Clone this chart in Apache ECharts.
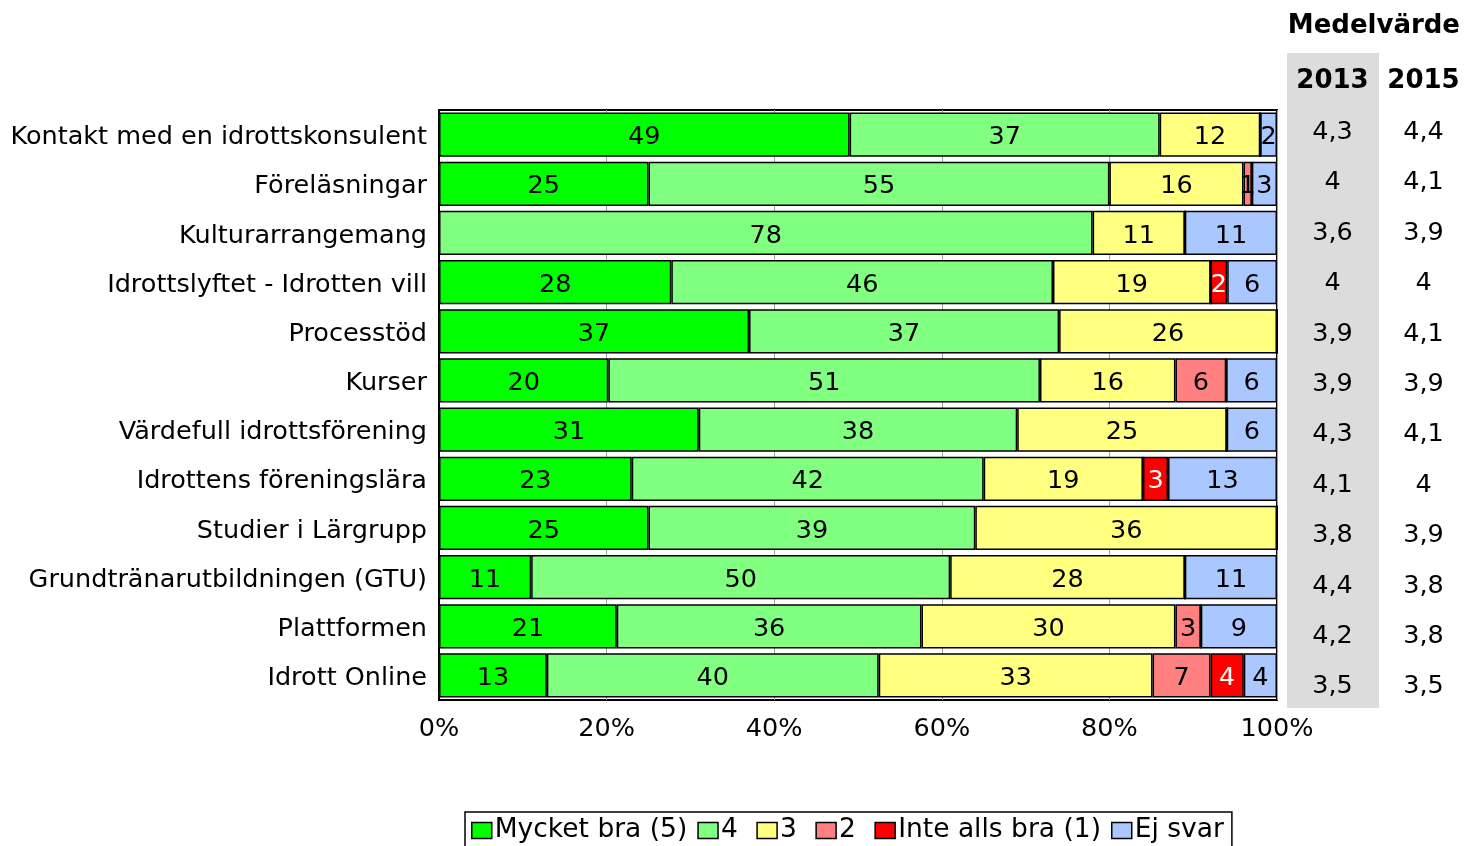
<!DOCTYPE html>
<html>
<head>
<meta charset="utf-8">
<script src="https://cdn.jsdelivr.net/npm/echarts@6/dist/echarts.min.js"></script>
<style>
  html, body { margin: 0; padding: 0; background: #fff; }
  #chart { width: 1469px; height: 846px; }
</style>
</head>
<body>
<div id="chart"></div>
<script>
// kategorier (uppifrån och ned)
const categories = [
  'Kontakt med en idrottskonsulent',
  'Föreläsningar',
  'Kulturarrangemang',
  'Idrottslyftet - Idrotten vill',
  'Processtöd',
  'Kurser',
  'Värdefull idrottsförening',
  'Idrottens föreningslära',
  'Studier i Lärgrupp',
  'Grundtränarutbildningen (GTU)',
  'Plattformen',
  'Idrott Online'
];

// andelar i procent per svarsalternativ
const mycketBra = [49, 25, 0, 28, 37, 20, 31, 23, 25, 11, 21, 13];
const fyra      = [37, 55, 78, 46, 37, 51, 38, 42, 39, 50, 36, 40];
const tre       = [12, 16, 11, 19, 26, 16, 25, 19, 36, 28, 30, 33];
const tva       = [0, 1, 0, 0, 0, 6, 0, 0, 0, 0, 3, 7];
const inteAlls  = [0, 0, 0, 2, 0, 0, 0, 3, 0, 0, 0, 4];
const ejSvar    = [2, 3, 11, 6, 0, 6, 6, 13, 0, 11, 9, 4];

// medelvärden
const years = ['2013', '2015'];
const medel2013 = [4.3, 4, 3.6, 4, 3.9, 3.9, 4.3, 4.1, 3.8, 4.4, 4.2, 3.5];
const medel2015 = [4.4, 4.1, 3.9, 4, 4.1, 3.9, 4.1, 4, 3.9, 3.8, 3.8, 3.5];

const xTicks = ['0%', '20%', '40%', '60%', '80%', '100%'];

const FONT = 'DejaVu Sans';

const stackDefs = [
  { name: 'Mycket bra (5)', data: mycketBra, color: '#00ff00', text: '#000' },
  { name: '4',              data: fyra,      color: '#80ff80', text: '#000' },
  { name: '3',              data: tre,       color: '#ffff80', text: '#000' },
  { name: '2',              data: tva,       color: '#ff8080', text: '#000' },
  { name: 'Inte alls bra (1)', data: inteAlls, color: '#ff0000', text: '#fff' },
  { name: 'Ej svar',        data: ejSvar,    color: '#aac8ff', text: '#000' }
];

// radsummor, så att varje stapel fyller 100 %
const rowSums = categories.map((c, i) => stackDefs.reduce((s, d) => s + d.data[i], 0));

const chart = echarts.init(document.getElementById('chart'));

const barSeries = stackDefs.map(d => ({
  name: d.name,
  type: 'bar',
  stack: 'total',
  xAxisIndex: 0,
  yAxisIndex: 0,
  barCategoryGap: '10%',
  itemStyle: { color: d.color, borderColor: '#000', borderWidth: 1.5 },
  label: {
    show: true,
    position: 'inside',
    offset: [0, 3],
    color: d.text,
    fontFamily: FONT,
    fontSize: 25.5,
    formatter: p => (p.data.raw > 0 ? String(p.data.raw) : '')
  },
  data: d.data.map((v, i) => ({ value: v / rowSums[i] * 100, raw: v }))
}));

const meanSeries = [medel2013, medel2015].map((arr, yi) => ({
  name: 'medel' + years[yi],
  type: 'scatter',
  xAxisIndex: 1,
  yAxisIndex: 1,
  symbolSize: 0.1,
  itemStyle: { color: '#000', opacity: 1 },
  label: {
    show: true,
    position: 'inside',
    offset: [0, 2],
    color: '#000',
    fontFamily: FONT,
    fontSize: 25.5,
    formatter: p => String(p.data[2]).replace('.', ',')
  },
  data: arr.map((v, i) => [yi, i, v])
}));

const option = {
  animation: false,
  title: {
    text: 'Medelvärde',
    right: 4,
    top: 8,
    textStyle: { fontFamily: FONT, fontSize: 26, fontWeight: 'bold', color: '#000' }
  },
  legend: {
    data: stackDefs.map(d => d.name),
    formatter: name => (name.length === 1 ? name + ' ' : name),
    left: 465,
    top: 812,
    icon: 'rect',
    itemWidth: 20,
    itemHeight: 16,
    itemGap: 10,
    padding: [5, 8, 8, 6],
    borderColor: '#000',
    borderWidth: 1.5,
    itemStyle: { borderColor: '#000', borderWidth: 1.5 },
    textStyle: { fontFamily: FONT, fontSize: 26.5, color: '#000', padding: [0, 0, 0, -2] }
  },
  grid: [
    {
      left: 439, right: 192, top: 110, bottom: 146,
      show: true, borderColor: '#000', borderWidth: 2
    },
    {
      left: 1287, width: 184, top: 105, height: 605
    },
    {
      left: 1287, width: 92, top: 53, height: 655,
      show: true, backgroundColor: '#dcdcdc', borderWidth: 0, z: 0
    }
  ],
  xAxis: [
    {
      gridIndex: 0,
      type: 'value',
      min: 0,
      max: 100,
      interval: 20,
      axisLine: { show: false },
      axisTick: { show: false },
      splitLine: { show: true, lineStyle: { color: '#a0a0a0', width: 1 } },
      axisLabel: {
        margin: 16,
        fontFamily: FONT,
        fontSize: 25.5,
        color: '#000',
        formatter: v => xTicks[v / 20]
      }
    },
    {
      gridIndex: 1,
      type: 'category',
      position: 'top',
      data: years,
      axisLine: { show: false },
      axisTick: { show: false },
      axisLabel: {
        interval: 0,
        margin: 11,
        fontFamily: FONT,
        fontSize: 26,
        fontWeight: 'bold',
        color: '#000'
      }
    },
    { gridIndex: 2, type: 'value', show: false }
  ],
  yAxis: [
    {
      gridIndex: 0,
      type: 'category',
      inverse: true,
      data: categories,
      axisLine: { show: true, lineStyle: { color: '#000', width: 2 } },
      axisTick: { show: false },
      axisLabel: {
        margin: 12,
        color: '#000',
        formatter: v => '{t|' + v + '}',
        rich: {
          t: { fontFamily: FONT, fontSize: 25.5, color: '#000', padding: [6, 0, 0, 0] }
        }
      }
    },
    {
      gridIndex: 1,
      type: 'category',
      inverse: true,
      data: categories,
      show: false
    },
    { gridIndex: 2, type: 'value', show: false }
  ],
  series: barSeries.concat(meanSeries)
};

chart.setOption(option);
window.addEventListener('resize', () => chart.resize());
</script>
</body>
</html>
